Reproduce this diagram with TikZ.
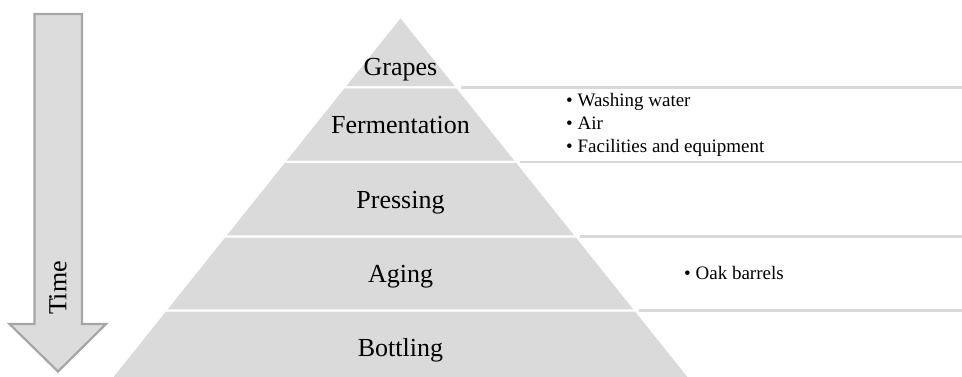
\documentclass[tikz,border=0pt]{standalone}
\usepackage{fontspec}
\setmainfont{Liberation Serif}
\definecolor{pyrfill}{HTML}{DADADA}
\definecolor{rulegrey}{HTML}{D9D9D9}
\definecolor{arrowfill}{HTML}{DCDCDC}
\definecolor{arrowedge}{HTML}{A6A6A6}
\tikzset{
  band/.style={fill=pyrfill, draw=white, line width=2pt, line join=miter},
  bandlabel/.style={font=\fontsize{26}{31}\selectfont, inner sep=0pt, anchor=base},
  listtext/.style={font=\fontsize{19}{23}\selectfont, inner sep=0pt, anchor=base west},
  boxrule/.style={draw=rulegrey, line width=2.2pt},
  timearrow/.style={fill=arrowfill, draw=arrowedge, line width=2.2pt, line join=miter}
}
\begin{document}
\begin{tikzpicture}[x=1pt, y=-1pt]
\useasboundingbox (0,0) rectangle (962,377);
\clip (0,0) rectangle (962,377);

% time arrow
\draw[timearrow] (34.5,14) -- (82,14) -- (82,324) -- (106,324) -- (58,371.5)
  -- (9.5,324) -- (34.5,324) -- cycle;
\node[font=\fontsize{26}{31}\selectfont, rotate=90, inner sep=0pt] (time) at (58,288) {Time};

% pyramid bands (apex at 400.5,16.5)
\draw[band] (400.5,16.5) -- (457.3,87.5) -- (343.7,87.5) -- cycle;
\draw[band] (343.7,87.5) -- (457.3,87.5) -- (516.9,162) -- (284.1,162) -- cycle;
\draw[band] (284.1,162) -- (516.9,162) -- (576.5,236.5) -- (224.5,236.5) -- cycle;
\draw[band] (224.5,236.5) -- (576.5,236.5) -- (635.7,310.5) -- (165.3,310.5) -- cycle;
\draw[band] (165.3,310.5) -- (635.7,310.5) -- (694.9,384.5) -- (106.1,384.5) -- cycle;

\node[bandlabel] (grapes)   at (400.5,76)  {Grapes};
\node[bandlabel] (ferm)     at (400.5,134) {Fermentation};
\node[bandlabel] (press)    at (400.5,208) {Pressing};
\node[bandlabel] (aging)    at (400.5,282) {Aging};
\node[bandlabel] (bottling) at (400.5,356) {Bottling};

% list boxes beside the pyramid: top and bottom rules
\coordinate (fermtop) at (461,87.5);
\coordinate (fermbot) at (520,162);
\coordinate (agetop)  at (579.5,236.5);
\coordinate (agebot)  at (639,310.5);
\draw[boxrule] (fermtop) -- (fermtop -| 962,0);
\draw[boxrule] (fermbot) -- (fermbot -| 962,0);
\draw[boxrule] (agetop)  -- (agetop -| 962,0);
\draw[boxrule] (agebot)  -- (agebot -| 962,0);

% list items
\node[listtext] (wash)  at (566,107) {\textbullet\ Washing water};
\node[listtext] (air)   at (566,130) {\textbullet\ Air};
\node[listtext] (equip) at (566,153) {\textbullet\ Facilities and equipment};
\node[listtext] (oak)   at (684,279) {\textbullet\ Oak barrels};
\end{tikzpicture}
\end{document}
